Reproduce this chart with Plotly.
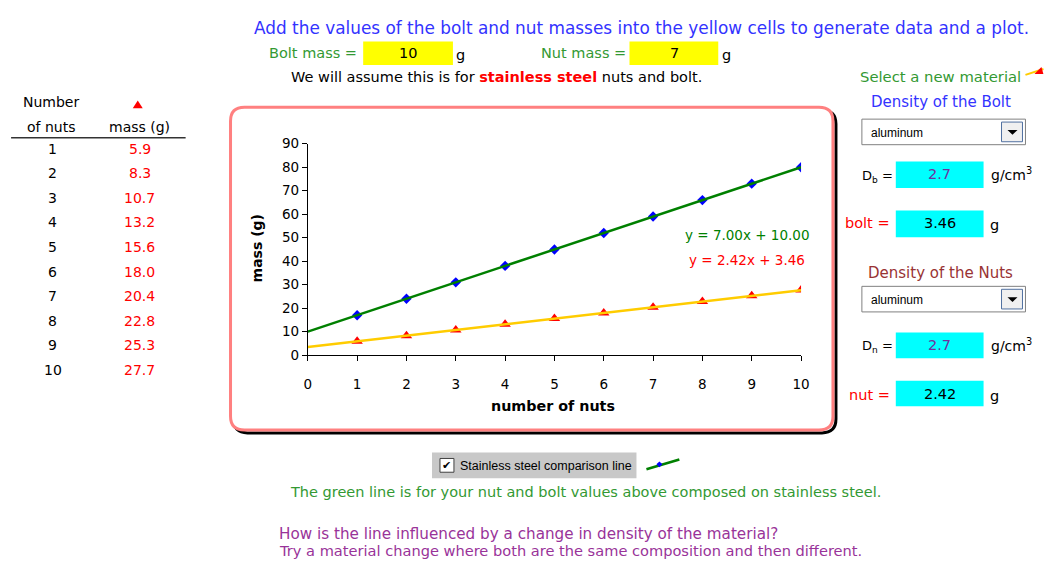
import plotly.graph_objects as go

# The figure sits inside the browser's default 8px body margin; the photo of the
# page is slightly scaled, so reference pixels are mapped through a measured transform.
OFF = 8
W, H = 1036, 557
SX, CX = 0.99, 3.0
SY, CY = 0.9875, -0.75

# ---------------- data ----------------
nuts = [1, 2, 3, 4, 5, 6, 7, 8, 9, 10]
al_mass = [5.9, 8.3, 10.7, 13.2, 15.6, 18.0, 20.4, 22.8, 25.3, 27.7]
ss_mass = [17, 24, 31, 38, 45, 52, 59, 66, 73, 80]
ss_slope, ss_intercept = 7.00, 10.00
al_slope, al_intercept = 2.42, 3.46
trend_x = [0, 10]
x_ticks = [0, 1, 2, 3, 4, 5, 6, 7, 8, 9, 10]
y_ticks = [0, 10, 20, 30, 40, 50, 60, 70, 80, 90]
bolt_mass_in = 10
nut_mass_in = 7
bolt_material = "aluminum"
nut_material = "aluminum"
bolt_density = 2.7
nut_density = 2.7
bolt_mass_al = 3.46
nut_mass_al = 2.42

FONT = "DejaVu Sans"


def X(r):
    page = (r - CX) / SX
    return (page - OFF) / W


def Y(r):
    page = (r - CY) / SY
    return 1 - (page - OFF) / H


fig = go.Figure()

ss_trend = [ss_intercept + ss_slope * x for x in trend_x]
al_trend = [al_intercept + al_slope * x for x in trend_x]

fig.add_trace(go.Scatter(x=nuts, y=ss_mass, mode="markers",
                         marker=dict(symbol="diamond", size=8, color="#0000FF"),
                         showlegend=False, hoverinfo="skip"))
fig.add_trace(go.Scatter(x=nuts, y=al_mass, mode="markers",
                         marker=dict(symbol="triangle-up", size=10, color="#FF0000"),
                         showlegend=False, hoverinfo="skip"))
fig.add_trace(go.Scatter(x=trend_x, y=ss_trend, mode="lines",
                         line=dict(color="#008000", width=2.5),
                         showlegend=False, hoverinfo="skip"))
fig.add_trace(go.Scatter(x=trend_x, y=al_trend, mode="lines",
                         line=dict(color="#FFCC00", width=2.5),
                         showlegend=False, hoverinfo="skip"))

shapes = []
ann = []


def text(x, y, s, color="black", size=14, xanchor="center", bold=False, family=FONT, angle=0):
    if bold:
        s = "<b>" + s + "</b>"
    ann.append(dict(x=X(x), y=Y(y), xref="paper", yref="paper", text=s, showarrow=False,
                    xanchor=xanchor, yanchor="middle", textangle=angle,
                    font=dict(family=family, size=size, color=color)))


def rect(x0, y0, x1, y1, fill=None, line=None, lw=1):
    shapes.append(dict(type="rect", xref="paper", yref="paper",
                       x0=X(x0), x1=X(x1), y0=Y(y1), y1=Y(y0),
                       fillcolor=fill if fill else "rgba(0,0,0,0)",
                       line=dict(color=line if line else "rgba(0,0,0,0)", width=lw if line else 0),
                       layer="below"))


def rounded(x0, y0, x1, y1, r, color, lw, layer="below", fill="rgba(0,0,0,0)"):
    p = (f"M {X(x0 + r)},{Y(y0)} L {X(x1 - r)},{Y(y0)} Q {X(x1)},{Y(y0)} {X(x1)},{Y(y0 + r)} "
         f"L {X(x1)},{Y(y1 - r)} Q {X(x1)},{Y(y1)} {X(x1 - r)},{Y(y1)} "
         f"L {X(x0 + r)},{Y(y1)} Q {X(x0)},{Y(y1)} {X(x0)},{Y(y1 - r)} "
         f"L {X(x0)},{Y(y0 + r)} Q {X(x0)},{Y(y0)} {X(x0 + r)},{Y(y0)} Z")
    shapes.append(dict(type="path", xref="paper", yref="paper", path=p,
                       line=dict(color=color, width=lw), fillcolor=fill, layer=layer))


# chart frame with black shadow
rounded(233, 103, 837, 431, 14, "#000000", 3)
rounded(230, 100, 834, 428, 14, "#FF8080", 3, fill="#FFFFFF")

# equations
text(748, 230, f"y = {ss_slope:.2f}x + {ss_intercept:.2f}", "#008000", 13.5)
text(748, 255, f"y = {al_slope:.2f}x + {al_intercept:.2f}", "#FF0000", 13.5)
# axis titles
text(553, 404, "number of nuts", "black", 14.3, bold=True)
text(257, 243, "mass (g)", "black", 14, bold=True, angle=-90)

# ---------------- left table ----------------
text(50, 95, "Number", "black", 14)
text(50, 120, "of nuts", "black", 14)
text(139, 120, "mass (g)", "black", 14)
shapes.append(dict(type="path", xref="paper", yref="paper",
                   path=f"M {X(132)},{Y(101)} L {X(142)},{Y(101)} L {X(137)},{Y(93)} Z",
                   fillcolor="#FF0000", line=dict(width=0)))
shapes.append(dict(type="line", xref="paper", yref="paper", x0=X(10), x1=X(185),
                   y0=Y(131), y1=Y(131), line=dict(color="#333333", width=1.5)))
for i, (n, m) in enumerate(zip(nuts, al_mass)):
    yy = 142 + 25 * i
    text(52, yy, str(n), "black", 14)
    text(139, yy, f"{m:.1f}", "#FF0000", 14)

# ---------------- top text ----------------
text(642, 19, "Add the values of the bolt and nut masses into the yellow cells to generate data and a plot.",
     "#3333FF", 16.9)
text(313, 45, "Bolt mass =", "#339933", 14.5)
rect(363, 33, 453, 57, fill="#FFFF00")
text(408, 45, str(bolt_mass_in), "black", 14.5)
text(461, 47, "g", "black", 14.5)
text(584, 45, "Nut mass =", "#339933", 14.5)
rect(630, 33, 719, 57, fill="#FFFF00")
text(675, 45, str(nut_mass_in), "black", 14.5)
text(727, 47, "g", "black", 14.5)
text(497, 69, "We will assume this is for <b><span style='color:#FF0000'>stainless steel</span></b> nuts and bolt.",
     "black", 14.5)

# ---------------- right panel ----------------
text(942, 69, "Select a new material", "#339933", 14.8)
shapes.append(dict(type="line", xref="paper", yref="paper", x0=X(1027), x1=X(1045),
                   y0=Y(67), y1=Y(61), line=dict(color="#FFCC00", width=2)))
shapes.append(dict(type="path", xref="paper", yref="paper",
                   path=f"M {X(1036)},{Y(66)} L {X(1045)},{Y(66)} L {X(1043)},{Y(59)} Z",
                   fillcolor="#FF0000", line=dict(width=0)))
text(942, 95, "Density of the Bolt", "#3333FF", 15)
text(942, 268, "Density of the Nuts", "#993333", 15)


def dropdown(y0, label):
    rect(863, y0, 1027, y0 + 26, fill="#FFFFFF", line="#808080", lw=1)
    rect(1003, y0 + 3, 1024, y0 + 23, fill="#F0F0F0", line="#5070A0", lw=1)
    shapes.append(dict(type="path", xref="paper", yref="paper",
                       path=f"M {X(1009)},{Y(y0 + 11)} L {X(1019)},{Y(y0 + 11)} L {X(1014)},{Y(y0 + 16)} Z",
                       fillcolor="#000000", line=dict(width=0)))
    text(870, y0 + 14, label, "black", 12, xanchor="left", family="Liberation Sans")


dropdown(112, bolt_material)
dropdown(282, nut_material)

rect(897, 155, 985, 182, fill="#00FFFF")
text(879, 170, "D<sub>b</sub> =", "black", 13)
text(941, 168, f"{bolt_density}", "#7030A0", 14.5)
text(990, 168, "g/cm<sup>3</sup>", "black", 14, xanchor="left")

rect(897, 205, 985, 232, fill="#00FFFF")
text(869, 218, "bolt =", "#FF0000", 14.5)
text(941, 218, f"{bolt_mass_al:.2f}", "black", 14.5)
text(989, 220, "g", "black", 14.5, xanchor="left")

rect(897, 329, 985, 355, fill="#00FFFF")
text(879, 343, "D<sub>n</sub> =", "black", 13)
text(941, 342, f"{nut_density}", "#7030A0", 14.5)
text(990, 342, "g/cm<sup>3</sup>", "black", 14, xanchor="left")

rect(897, 378, 985, 404, fill="#00FFFF")
text(871, 392, "nut =", "#FF0000", 14.5)
text(941, 391, f"{nut_mass_al:.2f}", "black", 14.5)
text(989, 393, "g", "black", 14.5, xanchor="left")

# ---------------- bottom ----------------
rect(432, 451, 637, 477, fill="#C8C8C8")
rect(440, 457, 454, 471, fill="#FFFFFF", line="#404040", lw=1)
text(447, 464, "✔", "black", 11)
text(458, 465, "Stainless steel comparison line", "black", 12.5, xanchor="left", family="Liberation Sans")
shapes.append(dict(type="line", xref="paper", yref="paper", x0=X(647), x1=X(680),
                   y0=Y(468), y1=Y(458), line=dict(color="#008000", width=2.5)))
shapes.append(dict(type="path", xref="paper", yref="paper",
                   path=f"M {X(660)},{Y(460)} L {X(663)},{Y(463)} L {X(660)},{Y(466)} L {X(657)},{Y(463)} Z",
                   fillcolor="#0000FF", line=dict(width=0)))
text(586, 491, "The green line is for your nut and bolt values above composed on stainless steel.",
     "#339933", 14.5)
text(277, 534, "How is the line influenced by a change in density of the material?", "#993399", 15.2,
     xanchor="left")
text(277, 551, "Try a material change where both are the same composition and then different.",
     "#993399", 14.6, xanchor="left")

fig.update_layout(
    width=W, height=H,
    margin=dict(l=0, r=0, t=0, b=0),
    paper_bgcolor="white", plot_bgcolor="rgba(0,0,0,0)",
    showlegend=False,
    shapes=shapes, annotations=ann,
    xaxis=dict(domain=[X(307.5), X(802)], range=[0, 10], tickvals=x_ticks,
               showline=True, linecolor="black", linewidth=1, ticks="outside", ticklen=5,
               tickcolor="black", showgrid=False, zeroline=False, ticklabelstandoff=12,
               tickfont=dict(family=FONT, size=13.5, color="black"), fixedrange=True),
    yaxis=dict(domain=[Y(352), Y(137)], range=[0, 90], tickvals=y_ticks,
               showline=True, linecolor="black", linewidth=1, ticks="outside", ticklen=5,
               tickcolor="black", showgrid=False, zeroline=False,
               tickfont=dict(family=FONT, size=13.5, color="black"), fixedrange=True),
)

fig.write_html("out.html", config={"displayModeBar": False})
